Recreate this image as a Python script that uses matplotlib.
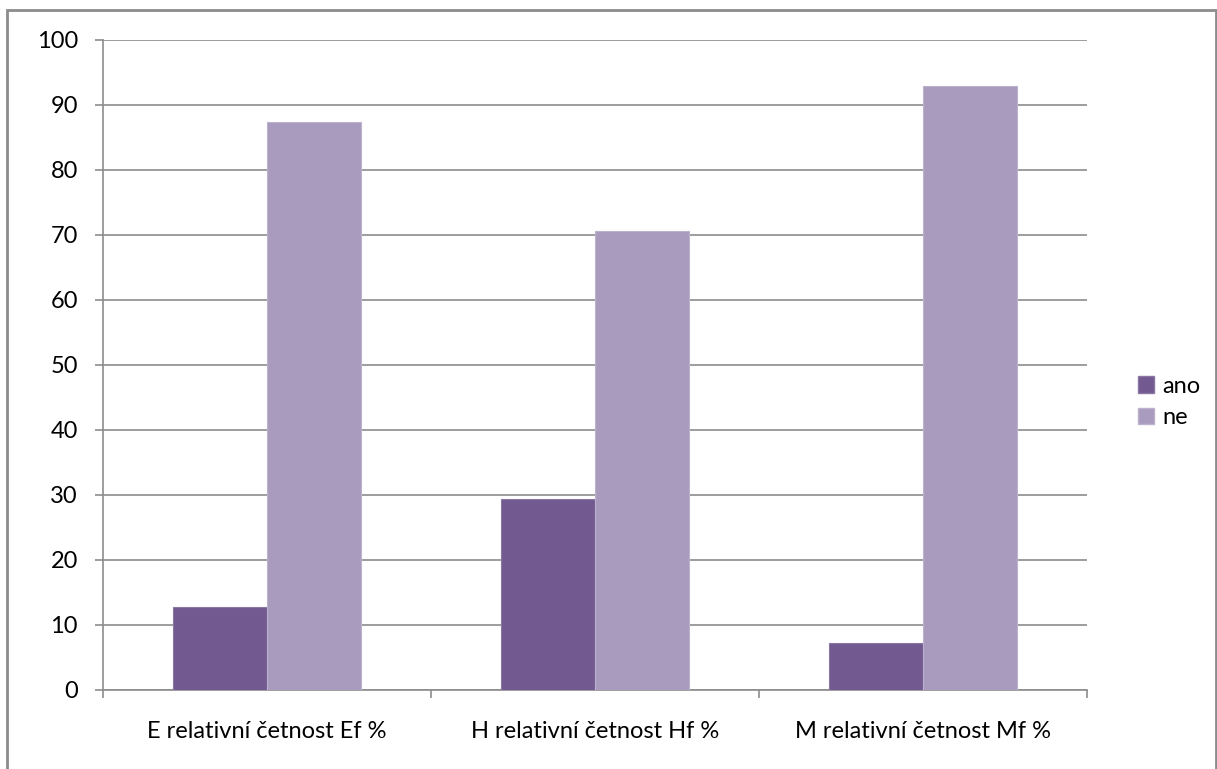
import matplotlib
matplotlib.use("Agg")
import matplotlib.pyplot as plt
import numpy as np
from matplotlib.patches import Rectangle, Patch

categories = ["E relativní četnost Ef %", "H relativní četnost Hf %", "M relativní četnost Mf %"]
series_names = ["ano", "ne"]
ano = [12.7, 29.4, 7.1]
ne = [87.3, 70.6, 92.9]
y_ticks = [0, 10, 20, 30, 40, 50, 60, 70, 80, 90, 100]

colors = ["#72598f", "#a99bbe"]
edge_colors = ["#8b77a4", "#bdb2ce"]

plt.rcParams['font.family'] = ['Lato', 'DejaVu Sans']
FS = 17

W, H = 1217, 769
fig = plt.figure(figsize=(W / 100, H / 100), dpi=100)
ax = fig.add_axes([103 / W, (H - 689.5) / H, (1087 - 103) / W, (689.5 - 40) / H])

x = np.arange(len(categories))
bw = 1 / 3.5
ax.bar(x - bw / 2, ano, width=bw, color=colors[0], edgecolor=edge_colors[0], linewidth=0.8, zorder=3)
ax.bar(x + bw / 2, ne, width=bw, color=colors[1], edgecolor=edge_colors[1], linewidth=0.8, zorder=3)

ax.set_xlim(-0.5, len(categories) - 0.5)
ax.set_ylim(0, 100)
ax.set_yticks(y_ticks)
ax.set_yticklabels([str(v) for v in y_ticks], fontsize=FS)
ax.yaxis.grid(True, color="#8c8c8c", linewidth=1.2, zorder=0)
ax.set_axisbelow(True)

# category labels between boundary ticks
ax.set_xticks(np.arange(len(categories) + 1) - 0.5)
ax.set_xticklabels([])
ax.set_xticks(x, minor=True)
ax.set_xticklabels(categories, minor=True, fontsize=FS)
ax.tick_params(axis="x", which="minor", length=0, pad=23)
ax.tick_params(axis="x", which="major", length=6, color="#8c8c8c", width=1.2)
ax.tick_params(axis="y", length=6, color="#8c8c8c", width=1.2, pad=12)

for side in ["top", "right"]:
    ax.spines[side].set_visible(False)
for side in ["left", "bottom"]:
    ax.spines[side].set_color("#8c8c8c")
    ax.spines[side].set_linewidth(1.2)

handles = [Patch(facecolor=colors[0], edgecolor=edge_colors[0]),
           Patch(facecolor=colors[1], edgecolor=edge_colors[1])]
fig.legend(handles, series_names, loc="center left",
           bbox_to_anchor=(1121 / W, (H - 402) / H), frameon=False,
           fontsize=FS, handlelength=0.7, handleheight=0.7,
           handletextpad=0.35, labelspacing=0.45, borderpad=0.2)

# outer chart border
fig.patches.append(Rectangle((7 / W, -0.05), (1216 - 7) / W, (H - 10) / H + 0.05,
                             transform=fig.transFigure, fill=False,
                             edgecolor="#8c8c8c", linewidth=2.0))

fig.savefig("out.png", dpi=100)
